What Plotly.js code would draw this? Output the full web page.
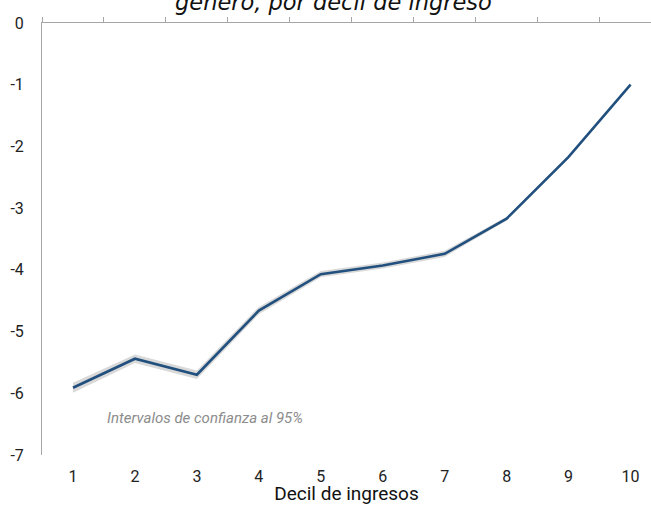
<!DOCTYPE html>
<html>
<head>
<meta charset="utf-8">
<script src="https://cdn.plot.ly/plotly-3.0.1.min.js"></script>
<style>html,body{margin:0;padding:0;background:#fff;}#chart{width:651px;height:505px;}</style>
</head>
<body>
<div id="chart"></div>
<script>
var deciles = [1, 2, 3, 4, 5, 6, 7, 8, 9, 10];
var brecha = [-5.91, -5.44, -5.70, -4.66, -4.07, -3.93, -3.74, -3.17, -2.17, -1.00];
var ciUpper = [-5.83, -5.37, -5.63, -4.60, -4.02, -3.88, -3.69, -3.14, -2.15, -0.98];
var ciLower = [-5.99, -5.51, -5.77, -4.72, -4.12, -3.98, -3.79, -3.20, -2.19, -1.02];
var yTicks = [0, -1, -2, -3, -4, -5, -6, -7];
var xBoundaries = [0.5, 1.5, 2.5, 3.5, 4.5, 5.5, 6.5, 7.5, 8.5, 9.5, 10.5];

var traces = [
  {x: deciles, y: ciLower, mode: 'lines', line: {width: 0, color: '#d9d9d9'}, hoverinfo: 'skip', showlegend: false},
  {x: deciles, y: ciUpper, mode: 'lines', line: {width: 0, color: '#d9d9d9'}, fill: 'tonexty', fillcolor: '#d9d9d9', hoverinfo: 'skip', showlegend: false},
  {x: deciles, y: brecha, mode: 'lines', line: {width: 2.6, color: '#22507e'}, showlegend: false},
  {x: deciles, y: brecha, xaxis: 'x2', mode: 'lines', line: {width: 0}, opacity: 0, hoverinfo: 'skip', showlegend: false}
];

var layout = {
  width: 651, height: 505,
  margin: {l: 42, r: 0, t: 23, b: 50, pad: 0},
  paper_bgcolor: '#ffffff', plot_bgcolor: '#ffffff',
  font: {family: 'Roboto, sans-serif', color: '#222222'},
  xaxis: {
    range: [0.5, 10.33], tickvals: deciles, ticktext: deciles.map(String),
    showline: false, showgrid: false, zeroline: false, ticks: '',
    tickfont: {size: 16, color: '#222222'}, ticklabelstandoff: 10,
    title: {text: 'Decil de ingresos', font: {size: 19, color: '#111111'}, standoff: 0},
    automargin: false
  },
  xaxis2: {
    overlaying: 'x', side: 'top', anchor: 'y', range: [0.5, 10.33],
    tickvals: xBoundaries, showticklabels: false, ticks: 'outside', ticklen: 5,
    tickcolor: '#a6a6a6', showline: true, linecolor: '#a6a6a6', linewidth: 1,
    showgrid: false, zeroline: false
  },
  yaxis: {
    range: [-7, 0], tickvals: yTicks, ticktext: yTicks.map(String),
    showline: true, linecolor: '#a6a6a6', linewidth: 1, showgrid: false, zeroline: false,
    ticks: '', tickfont: {size: 16, color: '#222222'}, ticklabelstandoff: 14, automargin: false
  },
  annotations: [
    {xref: 'x', yref: 'y', x: 1.52, y: -6.40, xanchor: 'left', yanchor: 'middle', showarrow: false,
     text: '<i>Intervalos de confianza al 95%</i>', font: {size: 15, color: '#8c8c8c'}},
    {xref: 'paper', yref: 'paper', x: 0.478, y: 1.0, yshift: 6, xanchor: 'center', yanchor: 'bottom', showarrow: false,
     text: '<i>género, por decil de ingreso</i>', font: {family: '"DejaVu Sans", sans-serif', size: 22.5, color: '#111111'}}
  ]
};

Plotly.newPlot('chart', traces, layout, {displayModeBar: false, staticPlot: true});
</script>
</body>
</html>
